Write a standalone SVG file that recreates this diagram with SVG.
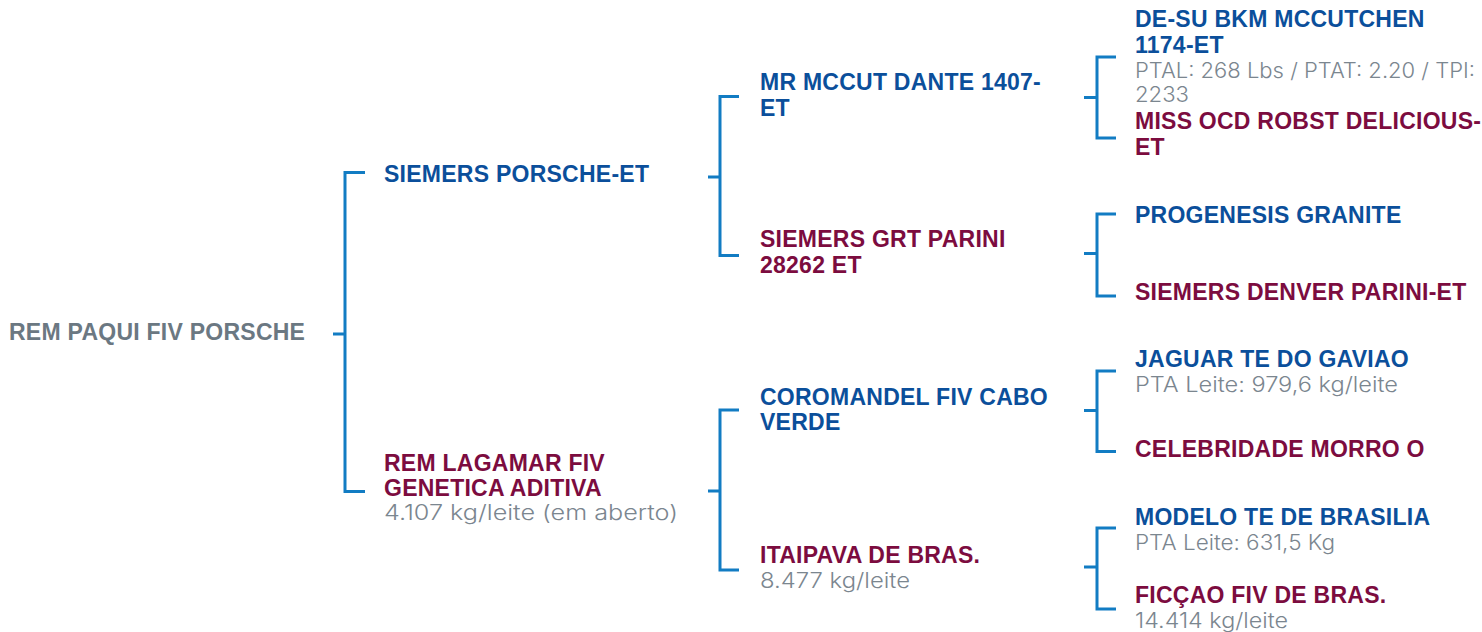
<svg xmlns="http://www.w3.org/2000/svg" width="1482" height="632" viewBox="0 0 1482 632">
<style>
.b{font-family:"Liberation Sans",Arial,sans-serif;font-weight:bold;font-size:23px;letter-spacing:0.25px}
.m{fill:#0b4f9b}
.f{fill:#7c0c3f}
.r{fill:#6b7882}
.s{font-family:Inter,"Noto Sans",sans-serif;font-weight:300;font-size:21px;fill:#7b868f}
.c{fill:none;stroke:#127cc3;stroke-width:3}
</style>
<rect width="1482" height="632" fill="#ffffff"/>
<g id="connectors">
<path class="c" d="M333 334H345M365 172.5H345V491.5H365"/>
<path class="c" d="M708 177H720M739 96.5H720V255.5H739"/>
<path class="c" d="M708 491H720M739 410H720V570H739"/>
<path class="c" d="M1084 97.5H1097M1116 57H1097V138H1116"/>
<path class="c" d="M1084 253.5H1097M1116 214H1097V296H1116"/>
<path class="c" d="M1084 410.5H1097M1116 371H1097V451.5H1116"/>
<path class="c" d="M1084 567H1097M1116 528H1097V609H1116"/>
</g>
<g id="node-root"><text class="b r" x="9" y="340">REM PAQUI FIV PORSCHE</text></g>
<g id="node-sire"><text class="b m" x="384" y="182">SIEMERS PORSCHE-ET</text></g>
<g id="node-dam">
<text class="b f" x="384" y="471">REM LAGAMAR FIV</text>
<text class="b f" x="384" y="496">GENETICA ADITIVA</text>
<text class="s" x="384" y="520" textLength="294" lengthAdjust="spacingAndGlyphs">4.107 kg/leite (em aberto)</text>
</g>
<g id="node-ss"><text class="b m" x="760" y="90">MR MCCUT DANTE 1407-</text><text class="b m" x="760" y="116">ET</text></g>
<g id="node-sd"><text class="b f" x="760" y="247">SIEMERS GRT PARINI</text><text class="b f" x="760" y="273">28262 ET</text></g>
<g id="node-ds"><text class="b m" x="760" y="405">COROMANDEL FIV CABO</text><text class="b m" x="760" y="430">VERDE</text></g>
<g id="node-dd">
<text class="b f" x="760" y="563">ITAIPAVA DE BRAS.</text>
<text class="s" x="760" y="588" textLength="150" lengthAdjust="spacingAndGlyphs">8.477 kg/leite</text>
</g>
<g id="node-sss">
<text class="b m" x="1135" y="27">DE-SU BKM MCCUTCHEN</text>
<text class="b m" x="1135" y="53">1174-ET</text>
<text class="s" x="1135" y="78" textLength="340" lengthAdjust="spacingAndGlyphs">PTAL: 268 Lbs / PTAT: 2.20 / TPI:</text>
<text class="s" x="1135" y="102" textLength="54" lengthAdjust="spacingAndGlyphs">2233</text>
</g>
<g id="node-ssd"><text class="b f" x="1135" y="129">MISS OCD ROBST DELICIOUS-</text><text class="b f" x="1135" y="155">ET</text></g>
<g id="node-sds"><text class="b m" x="1135" y="223">PROGENESIS GRANITE</text></g>
<g id="node-sdd"><text class="b f" x="1135" y="300">SIEMERS DENVER PARINI-ET</text></g>
<g id="node-dss">
<text class="b m" x="1135" y="367">JAGUAR TE DO GAVIAO</text>
<text class="s" x="1135" y="392" textLength="263" lengthAdjust="spacingAndGlyphs">PTA Leite: 979,6 kg/leite</text>
</g>
<g id="node-dsd"><text class="b f" x="1135" y="457">CELEBRIDADE MORRO O</text></g>
<g id="node-dds">
<text class="b m" x="1135" y="525">MODELO TE DE BRASILIA</text>
<text class="s" x="1135" y="550" textLength="200" lengthAdjust="spacingAndGlyphs">PTA Leite: 631,5 Kg</text>
</g>
<g id="node-ddd">
<text class="b f" x="1135" y="603">FICÇAO FIV DE BRAS.</text>
<text class="s" x="1135" y="628" textLength="153" lengthAdjust="spacingAndGlyphs">14.414 kg/leite</text>
</g>
</svg>
